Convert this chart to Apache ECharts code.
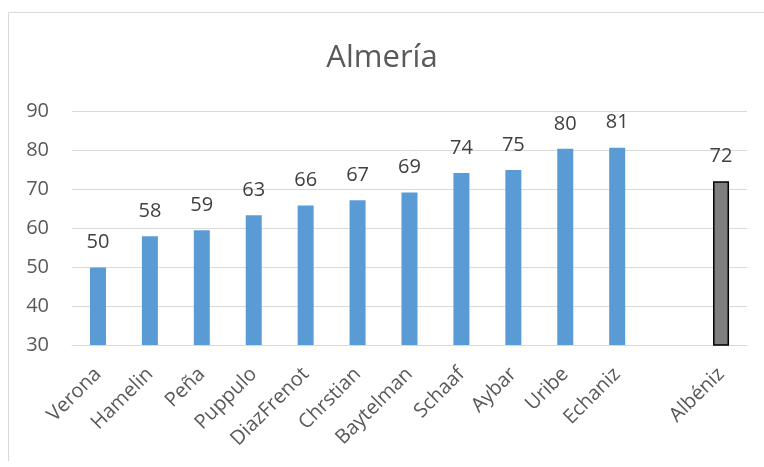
<!DOCTYPE html>
<html>
<head>
<meta charset="utf-8">
<script src="https://cdn.jsdelivr.net/npm/echarts@6/dist/echarts.min.js"></script>
<style>html,body{margin:0;padding:0;background:#fff;}#c{width:764px;height:467px;}</style>
</head>
<body>
<div id="c"></div>
<script>
const categories = ['Verona','Hamelin','Peña','Puppulo','DiazFrenot','Chrstian','Baytelman','Schaaf','Aybar','Uribe','Echaniz','','Albéniz'];
const values = [49.9, 57.9, 59.4, 63.3, 65.8, 67.1, 69.1, 74.1, 74.9, 80.3, 80.6, null, 72.0];
const highlighted = ['Albéniz'];
const yTicks = {min: 30, max: 90, interval: 10};

const FONT = '"Open Sans", "DejaVu Sans", sans-serif';
const chart = echarts.init(document.getElementById('c'), null, {renderer: 'canvas'});
const data = values.map((v, i) => {
  if (v === null) return '-';
  if (highlighted.includes(categories[i])) {
    return {value: v, itemStyle: {color: '#7f7f7f', borderColor: '#000', borderWidth: 1.5}};
  }
  return {value: v, itemStyle: {color: '#5b9bd5'}};
});
chart.setOption({
  animation: false,
  backgroundColor: '#fff',
  title: {
    text: 'Almería', left: 'center', top: 38,
    textStyle: {fontFamily: FONT, fontSize: 31, fontWeight: 'normal', color: '#595959'}
  },
  grid: {left: 72, right: 17, top: 111, bottom: 122},
  xAxis: {
    type: 'category', data: categories,
    axisLine: {show: true, lineStyle: {color: '#d9d9d9', width: 1}},
    axisTick: {show: false},
    axisLabel: {rotate: 45, interval: 0, margin: 26, fontFamily: FONT, fontSize: 20, color: '#595959'}
  },
  yAxis: {
    type: 'value', min: yTicks.min, max: yTicks.max, interval: yTicks.interval,
    axisLine: {show: false}, axisTick: {show: false},
    splitLine: {lineStyle: {color: '#d9d9d9', width: 1}},
    axisLabel: {margin: 23, fontFamily: FONT, fontSize: 20, color: '#595959'}
  },
  series: [{
    type: 'bar', data: data, barWidth: 16,
    label: {show: true, position: 'top', distance: 15, fontFamily: FONT, fontSize: 20, color: '#404040',
      formatter: p => Math.round(p.value)}
  }],
  graphic: [
    {type: 'line', shape: {x1: 8.5, y1: 12.5, x2: 764, y2: 12.5}, style: {stroke: '#d9d9d9', lineWidth: 1}},
    {type: 'line', shape: {x1: 8.5, y1: 12.5, x2: 8.5, y2: 461}, style: {stroke: '#d9d9d9', lineWidth: 1}}
  ]
});
</script>
</body>
</html>
